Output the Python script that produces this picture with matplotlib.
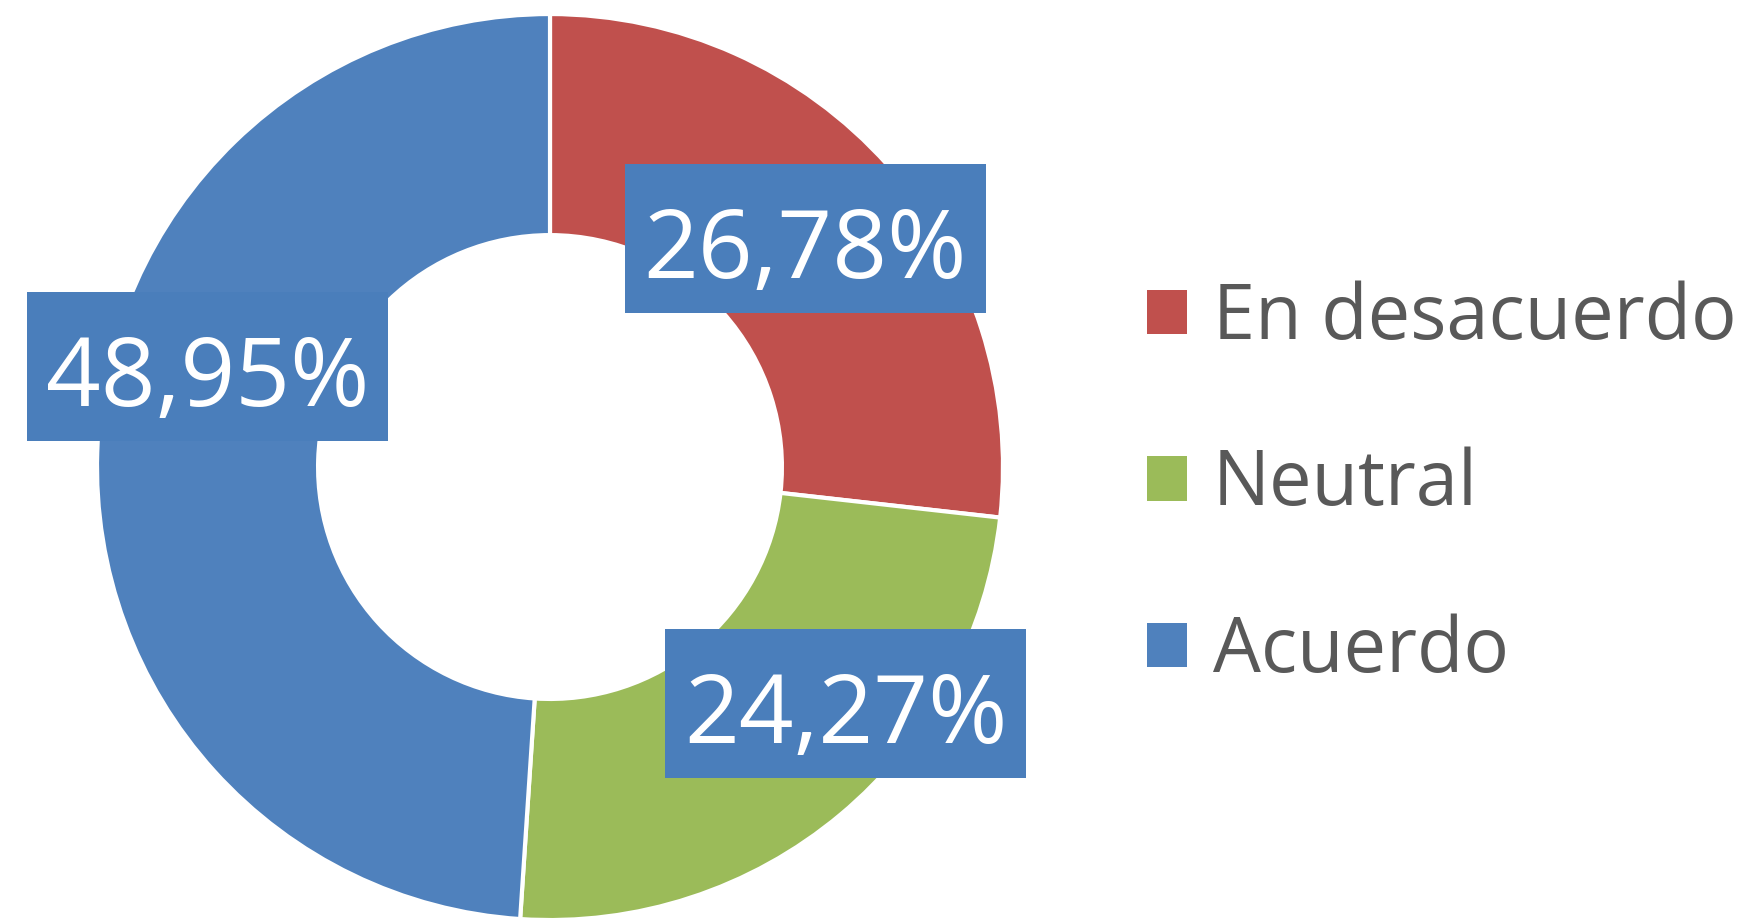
import numpy as np
import matplotlib.pyplot as plt
from matplotlib.patches import Rectangle

# Respuestas agrupadas
categorias = ['En desacuerdo', 'Neutral', 'Acuerdo']
porcentajes = [26.78, 24.27, 48.95]
colores = ['#C0504D', '#9BBB59', '#4F81BD']

# desplazamiento manual de cada etiqueta respecto al centro del sector
ajustes = [(0.0, 0.0), (0.168, 0.057), (0.0, 0.196)]

plt.rcParams['font.family'] = ['Open Sans', 'DejaVu Sans']

fig = plt.figure(figsize=(17.6, 9.24), dpi=100)
ax = fig.add_axes([0.0551, 0.0043, 0.5148, 0.9805])

ancho = 0.488
wedges, _ = ax.pie(porcentajes, colors=colores, startangle=90, counterclock=False,
                   radius=1.0,
                   wedgeprops=dict(width=ancho, edgecolor='white', linewidth=3))
ax.set_xlim(-1, 1)
ax.set_ylim(-1, 1)
ax.set_aspect('equal')

# caja de etiqueta (unidades del eje)
caja_w, caja_h = 0.797, 0.329
r_lab = 1.0 - ancho / 2
for w, val, (dx, dy) in zip(wedges, porcentajes, ajustes):
    ang = np.deg2rad((w.theta1 + w.theta2) / 2)
    x = r_lab * np.cos(ang) + dx
    y = r_lab * np.sin(ang) + dy
    ax.add_patch(Rectangle((x - caja_w / 2, y - caja_h / 2), caja_w, caja_h,
                           fc='#4A7EBB', ec='none', zorder=3, clip_on=False))
    txt = f'{val:.2f}%'.replace('.', ',')
    ax.text(x, y - 0.087, txt, ha='center', va='baseline', fontsize=69,
            color='white', zorder=4, clip_on=False)

handles = [plt.Rectangle((0, 0), 1, 1, fc=c, ec='none') for c in colores]
leg = fig.legend(handles, categorias, loc='center left', bbox_to_anchor=(0.6517, 0.475),
                 frameon=False, fontsize=54.5, labelcolor='#595959',
                 borderaxespad=0, borderpad=0,
                 handlelength=0.53, handleheight=0.53, handletextpad=0.34,
                 labelspacing=1.19)

fig.savefig('out.png', dpi=100)
